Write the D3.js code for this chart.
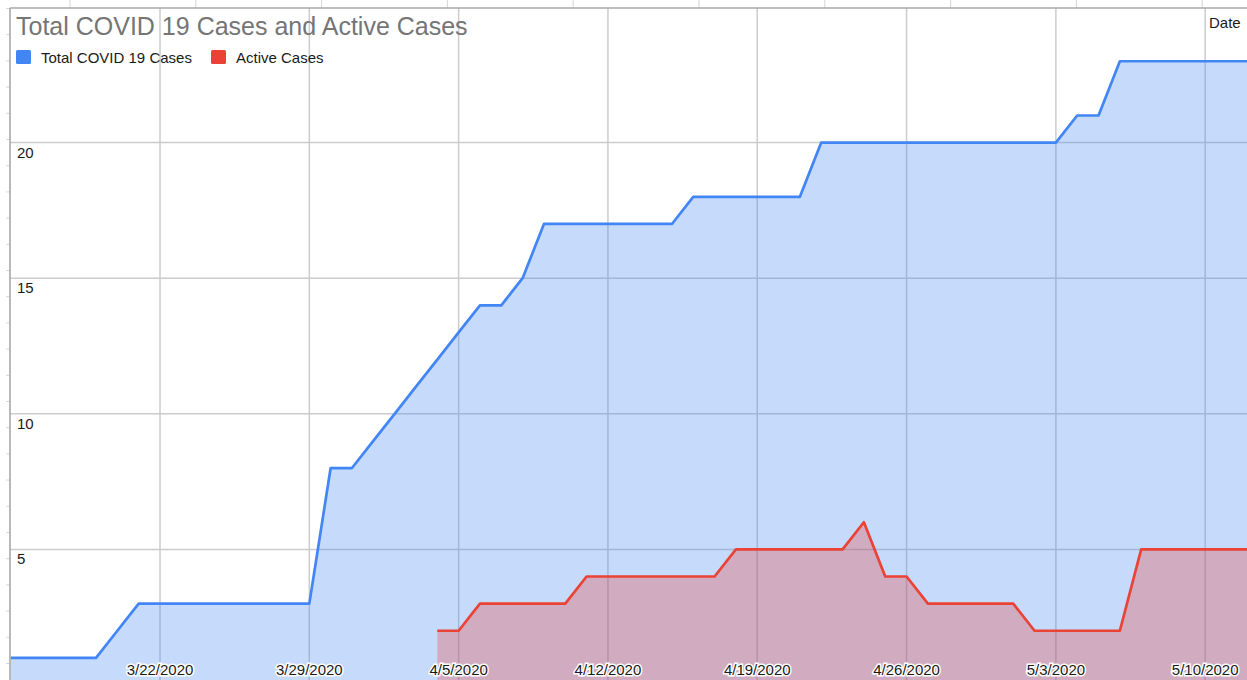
<!DOCTYPE html>
<html>
<head>
<meta charset="utf-8">
<script src="https://cdn.jsdelivr.net/npm/d3@7"></script>
<style>
  html, body { margin: 0; padding: 0; background: #fff; }
  svg { display: block; font-family: "Liberation Sans", Arial, sans-serif; }
</style>
</head>
<body>
<div id="chart"></div>
<script>
// Dates (one per day) and the two series.
const dates = [
    "2020-03-15", "2020-03-16", "2020-03-17", "2020-03-18", "2020-03-19", "2020-03-20", "2020-03-21",
    "2020-03-22", "2020-03-23", "2020-03-24", "2020-03-25", "2020-03-26", "2020-03-27", "2020-03-28",
    "2020-03-29", "2020-03-30", "2020-03-31", "2020-04-01", "2020-04-02", "2020-04-03", "2020-04-04",
    "2020-04-05", "2020-04-06", "2020-04-07", "2020-04-08", "2020-04-09", "2020-04-10", "2020-04-11",
    "2020-04-12", "2020-04-13", "2020-04-14", "2020-04-15", "2020-04-16", "2020-04-17", "2020-04-18",
    "2020-04-19", "2020-04-20", "2020-04-21", "2020-04-22", "2020-04-23", "2020-04-24", "2020-04-25",
    "2020-04-26", "2020-04-27", "2020-04-28", "2020-04-29", "2020-04-30", "2020-05-01", "2020-05-02",
    "2020-05-03", "2020-05-04", "2020-05-05", "2020-05-06", "2020-05-07", "2020-05-08", "2020-05-09",
    "2020-05-10", "2020-05-11", "2020-05-12"
];
const totalCases = [
    1, 1, 1, 1, 1, 2, 3,
    3, 3, 3, 3, 3, 3, 3,
    3, 8, 8, 9, 10, 11, 12,
    13, 14, 14, 15, 17, 17, 17,
    17, 17, 17, 17, 18, 18, 18,
    18, 18, 18, 20, 20, 20, 20,
    20, 20, 20, 20, 20, 20, 20,
    20, 21, 21, 23, 23, 23, 23,
    23, 23, 23
];
const activeCases = [
    null, null, null, null, null, null, null,
    null, null, null, null, null, null, null,
    null, null, null, null, null, null, 2,
    2, 3, 3, 3, 3, 3, 4,
    4, 4, 4, 4, 4, 4, 5,
    5, 5, 5, 5, 5, 6, 4,
    4, 3, 3, 3, 3, 3, 2,
    2, 2, 2, 2, 5, 5, 5,
    5, 5, 5
];
const seriesNames = ["Total COVID 19 Cases", "Active Cases"];
const seriesColors = ["#4285f4", "#ea4335"];
const yTicks = [5, 10, 15, 20];

const width = 1247;
const height = 680;
const plot = {left: 10, top: 8};

const parse = d3.utcParse("%Y-%m-%d");
const days = dates.map(parse);

const svg = d3.select("#chart")
    .append("svg")
    .attr("width", width)
    .attr("height", height);

// Scales: the screenshot cuts the chart off at the right and bottom.
const x = d3.scaleUtc()
    .domain([parse("2020-03-15"), parse("2020-05-13")])
    .range([10.7, 10.7 + 59 * 21.33]);
const y = d3.scaleLinear().domain([0, 25]).range([685, 7]);

// Spreadsheet cell edges peeking out around the chart frame.
svg.append("g")
    .selectAll("line")
    .data(d3.range(8.5, height, 26.2))
    .join("line")
    .attr("x1", 6).attr("x2", plot.left)
    .attr("y1", d => d).attr("y2", d => d)
    .attr("stroke", "#d6d6d6");
svg.append("g")
    .selectAll("line")
    .data(d3.range(70, width, 125.8))
    .join("line")
    .attr("x1", d => d).attr("x2", d => d)
    .attr("y1", 0).attr("y2", plot.top)
    .attr("stroke", "#d6d6d6");

// Gridlines.
const weekTicks = x.ticks(d3.utcWeek.every(1)).filter(d => x(d) > plot.left + 20);
svg.append("g")
    .selectAll("line")
    .data(weekTicks)
    .join("line")
    .attr("x1", d => x(d)).attr("x2", d => x(d))
    .attr("y1", plot.top).attr("y2", height)
    .attr("stroke", "#cccccc")
    .attr("stroke-width", 1.5);
svg.append("g")
    .selectAll("line")
    .data(yTicks)
    .join("line")
    .attr("x1", plot.left).attr("x2", width)
    .attr("y1", d => y(d)).attr("y2", d => y(d))
    .attr("stroke", "#cccccc")
    .attr("stroke-width", 1.5);

// Areas and lines.
const series = [totalCases, activeCases];
series.forEach((vals, k) => {
    const pts = days.map((d, i) => ({date: d, value: vals[i]}));
    const area = d3.area()
        .defined(p => p.value !== null)
        .x(p => x(p.date))
        .y0(y(0))
        .y1(p => y(p.value));
    const line = d3.line()
        .defined(p => p.value !== null)
        .x(p => x(p.date))
        .y(p => y(p.value));
    svg.append("path")
        .attr("d", area(pts))
        .attr("fill", seriesColors[k])
        .attr("fill-opacity", 0.3);
    svg.append("path")
        .attr("d", line(pts))
        .attr("fill", "none")
        .attr("stroke", seriesColors[k])
        .attr("stroke-width", 2.7)
        .attr("stroke-linejoin", "round");
});

// Frame (left and top edges are all that show).
svg.append("line")
    .attr("x1", plot.left).attr("x2", plot.left)
    .attr("y1", plot.top).attr("y2", height)
    .attr("stroke", "#a8a8a8").attr("stroke-width", 1.6);
svg.append("line")
    .attr("x1", plot.left).attr("x2", width)
    .attr("y1", plot.top).attr("y2", plot.top)
    .attr("stroke", "#a8a8a8").attr("stroke-width", 1.6);

// Y labels sit just under their gridline.
svg.append("g")
    .selectAll("text")
    .data(yTicks)
    .join("text")
    .attr("x", 17)
    .attr("y", d => y(d) + 15)
    .attr("font-size", "15px")
    .attr("fill", "#1a1a1a")
    .text(d => d);

// X labels with a white halo.
const fmt = d3.utcFormat("%-m/%-d/%Y");
svg.append("g")
    .selectAll("text")
    .data(weekTicks)
    .join("text")
    .attr("x", d => x(d))
    .attr("y", 675)
    .attr("text-anchor", "middle")
    .attr("font-size", "15px")
    .attr("fill", "#1a1a1a")
    .attr("stroke", "#fff")
    .attr("stroke-width", 3)
    .attr("paint-order", "stroke")
    .text(d => fmt(d));

// Title.
svg.append("text")
    .attr("x", 16)
    .attr("y", 35)
    .attr("font-size", "25px")
    .attr("fill", "#757575")
    .text("Total COVID 19 Cases and Active Cases");

// Axis title at the top right.
svg.append("text")
    .attr("x", 1209)
    .attr("y", 28)
    .attr("font-size", "15px")
    .attr("fill", "#1a1a1a")
    .text("Date");

// Legend.
const legendX = [16, 211];
const legend = svg.append("g")
    .selectAll("g")
    .data(seriesNames)
    .join("g")
    .attr("transform", (d, i) => `translate(${legendX[i]},50)`);
legend.append("rect")
    .attr("width", 15).attr("height", 14)
    .attr("rx", 1.5)
    .attr("fill", (d, i) => seriesColors[i]);
legend.append("text")
    .attr("x", 25)
    .attr("y", 12.7)
    .attr("font-size", "15px")
    .attr("fill", "#1a1a1a")
    .text(d => d);
</script>
</body>
</html>
